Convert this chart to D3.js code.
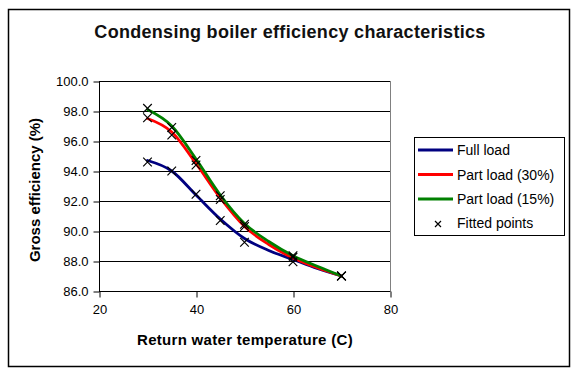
<!DOCTYPE html>
<html>
<head>
<meta charset="utf-8">
<script src="https://cdn.jsdelivr.net/npm/d3@7"></script>
<style>
  html, body { margin: 0; padding: 0; background: #fff; }
  svg { display: block; font-family: "Liberation Sans", Arial, sans-serif; }
</style>
</head>
<body>
<svg id="chart" width="579" height="376"></svg>
<script>
// ---- Data ----
const title = "Condensing boiler efficiency characteristics";
const xTitle = "Return water temperature (C)";
const yTitle = "Gross efficiency (%)";

const lineTemps = [30, 35, 40, 45, 50, 55, 60, 65, 70];
const fullLoad   = [94.7, 94.0, 92.4, 90.8, 89.5, 88.7, 88.1, 87.5, 87.0];
const part30     = [97.5, 96.6, 94.5, 92.2, 90.3, 89.1, 88.2, 87.55, 87.0];
const part15     = [98.1, 97.0, 94.8, 92.4, 90.5, 89.3, 88.35, 87.65, 87.0];

const fittedTemps  = [30, 35, 40, 45, 50, 60, 70];
const fittedFull   = [94.6, 94.0, 92.45, 90.7, 89.25, 87.95, 87.0];
const fitted30     = [97.55, 96.4, 94.4, 92.1, 90.3, 88.25, 87.0];
const fitted15     = [98.18, 96.9, 94.7, 92.35, 90.45, 88.35, 87.0];

const xTicks = [20, 40, 60, 80];
const yTicks = [86, 88, 90, 92, 94, 96, 98, 100];

const seriesNames  = ["Full load", "Part load (30%)", "Part load (15%)"];
const seriesColors = ["#000080", "#ff0000", "#008000"];
const fittedName = "Fitted points";

// ---- Layout ----
const svg = d3.select("#chart");
const plot = { left: 99, right: 390, top: 81, bottom: 291 };

const x = d3.scaleLinear().domain([20, 80]).range([plot.left, plot.right]);
const y = d3.scaleLinear().domain([86, 100]).range([plot.bottom, plot.top]);

// outer border
svg.append("rect").attr("x", 8.5).attr("y", 9.5).attr("width", 561).attr("height", 357)
  .attr("fill", "#fff").attr("stroke", "#000").attr("stroke-width", 1.5);

// title
svg.append("text").attr("x", 290).attr("y", 38).attr("text-anchor", "middle")
  .attr("font-size", 18).attr("font-weight", "bold").attr("letter-spacing", 0.3)
  .attr("fill", "#111").text(title);

// gridlines
svg.append("g").selectAll("line").data(yTicks).join("line")
  .attr("x1", plot.left).attr("x2", plot.right)
  .attr("y1", d => Math.round(y(d)) + 0.5).attr("y2", d => Math.round(y(d)) + 0.5)
  .attr("stroke", "#000").attr("stroke-width", 1);

// plot border (right) grey
svg.append("line").attr("x1", plot.right + 0.5).attr("x2", plot.right + 0.5)
  .attr("y1", plot.top).attr("y2", plot.bottom).attr("stroke", "#808080");

// y axis
const yAxis = d3.axisLeft(y).tickValues(yTicks).tickFormat(d3.format(".1f")).tickSize(6).tickPadding(5);
const gy = svg.append("g").attr("transform", `translate(${plot.left + 0.5},0.5)`).call(yAxis);
gy.select(".domain").attr("stroke", "#000").attr("d", `M0,${plot.top}V${plot.bottom}`);
gy.selectAll("text").attr("font-size", 13).attr("font-family", "Liberation Sans, Arial, sans-serif").attr("fill", "#000");

// x axis
const xAxis = d3.axisBottom(x).tickValues(xTicks).tickSize(6).tickPadding(7);
const gx = svg.append("g").attr("transform", `translate(0.5,${plot.bottom + 0.5})`).call(xAxis);
gx.select(".domain").attr("stroke", "#000").attr("d", `M${plot.left},0H${plot.right}`);
gx.selectAll("text").attr("font-size", 13).attr("font-family", "Liberation Sans, Arial, sans-serif").attr("fill", "#000");

// axis titles
svg.append("text").attr("x", 245).attr("y", 345).attr("text-anchor", "middle")
  .attr("font-size", 15).attr("font-weight", "bold").attr("letter-spacing", 0.3).text(xTitle);
svg.append("text").attr("transform", "translate(40,190) rotate(-90)").attr("text-anchor", "middle")
  .attr("font-size", 15).attr("font-weight", "bold").text(yTitle);

// lines
const lineGen = d3.line().x(d => x(d[0])).y(d => y(d[1])).curve(d3.curveMonotoneX);
[fullLoad, part30, part15].forEach((vals, i) => {
  svg.append("path").datum(lineTemps.map((t, j) => [t, vals[j]]))
    .attr("d", lineGen).attr("fill", "none")
    .attr("stroke", seriesColors[i]).attr("stroke-width", 2.8)
    .attr("stroke-linejoin", "round").attr("stroke-linecap", "round");
});

// fitted points (x markers)
const xMark = (g, cx, cy, r) => {
  g.append("path").attr("d", `M${cx - r},${cy - r}L${cx + r},${cy + r}M${cx - r},${cy + r}L${cx + r},${cy - r}`)
    .attr("stroke", "#000").attr("stroke-width", 1.2).attr("fill", "none");
};
const markers = svg.append("g");
[fittedFull, fitted30, fitted15].forEach(vals => {
  fittedTemps.forEach((t, j) => xMark(markers, x(t), y(vals[j]), 4.3));
});

// legend
const lg = svg.append("g");
lg.append("rect").attr("x", 414.5).attr("y", 137.5).attr("width", 150).attr("height", 98)
  .attr("fill", "#fff").attr("stroke", "#000").attr("stroke-width", 1);
const rowY = [150, 174.5, 199, 223];
seriesNames.forEach((name, i) => {
  lg.append("line").attr("x1", 418).attr("x2", 453).attr("y1", rowY[i]).attr("y2", rowY[i])
    .attr("stroke", seriesColors[i]).attr("stroke-width", 2.8);
  lg.append("text").attr("x", 457).attr("y", rowY[i] + 5).attr("font-size", 14).text(name);
});
xMark(lg, 438, rowY[3] + 1, 3);
lg.append("text").attr("x", 457).attr("y", rowY[3] + 5).attr("font-size", 14).text(fittedName);
</script>
</body>
</html>
